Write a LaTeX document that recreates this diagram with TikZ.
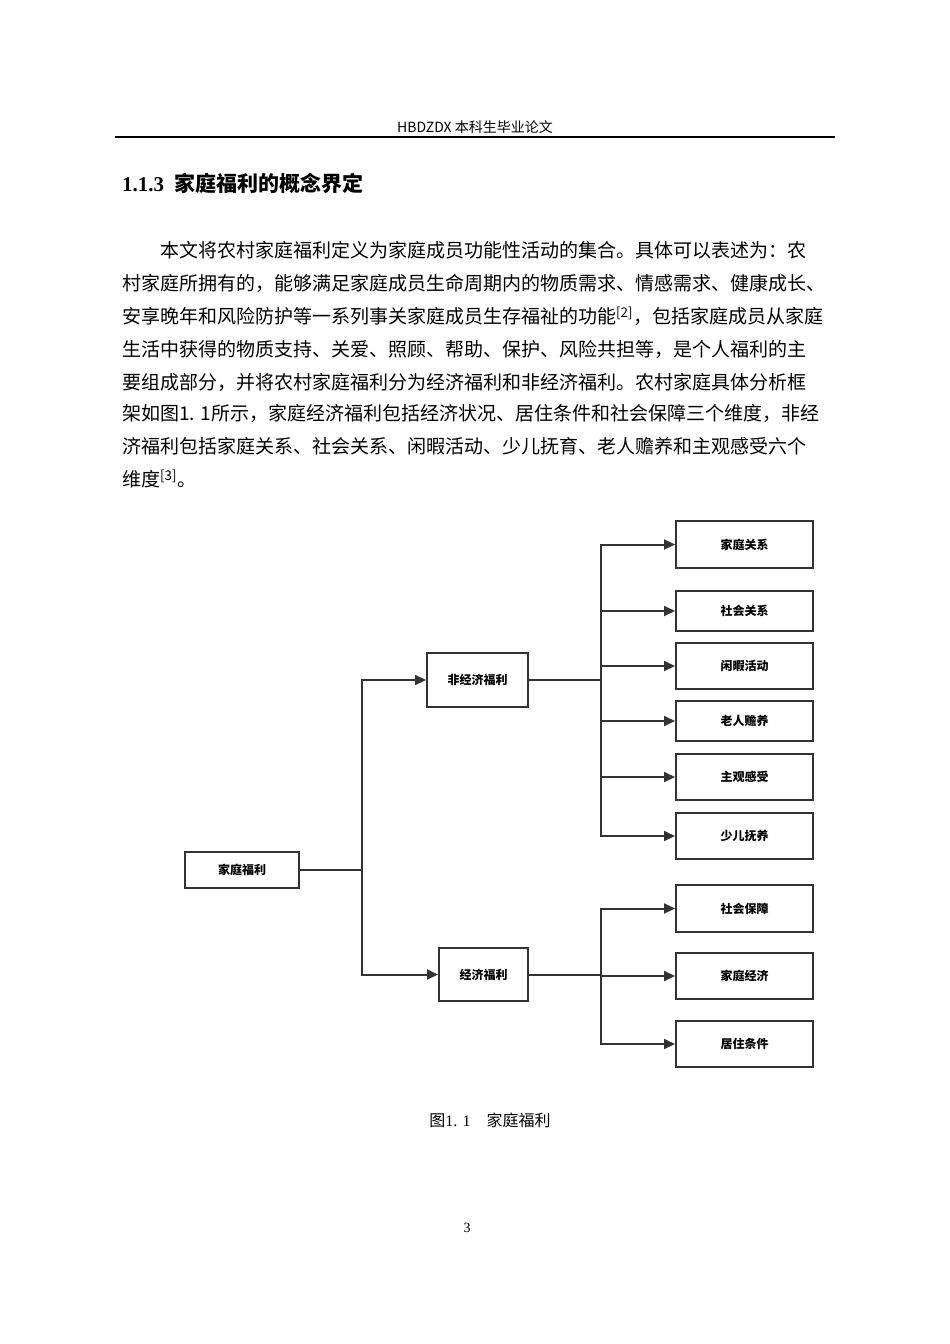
\documentclass[tikz,border=0pt]{standalone}
\usepackage{fontspec}
\setmainfont{Liberation Serif}
\newfontfamily\cjk{Noto Sans CJK SC}
\usetikzlibrary{arrows.meta}
\begin{document}
\begin{tikzpicture}[x=1pt,y=-1pt,
  box/.style={draw=black!80,line width=2pt,fill=white,inner sep=0pt,font=\cjk\bfseries\fontsize{12}{12}\selectfont},
  con/.style={line width=2pt,draw=black!80},
  arr/.style={con,-{Triangle[length=11pt,width=10pt]}},
  body/.style={anchor=west,inner sep=0pt,font=\cjk\fontsize{19}{19}\selectfont}]
\useasboundingbox[fill=white] (0,0) rectangle (950,1344);
\node[inner sep=0pt,font=\cjk\fontsize{14}{14}\selectfont] (hdr) at (475,127) {HBDZDX 本科生毕业论文};
\draw[line width=2pt] (115,137) -- (835,137);
\node[anchor=west,inner sep=0pt,font=\bfseries\fontsize{21}{21}\selectfont] (h) at (122,183) {1.1.3\ \ {\cjk 家庭福利的概念界定}};
\node[body] (l1) at (160,250) {本文将农村家庭福利定义为家庭成员功能性活动的集合。具体可以表述为：农};
\node[body] (l2) at (122,283) {村家庭所拥有的，能够满足家庭成员生命周期内的物质需求、情感需求、健康成长、};
\node[body] (l3) at (122,316) {安享晚年和风险防护等一系列事关家庭成员生存福祉的功能\textsuperscript{[2]}，包括家庭成员从家庭};
\node[body] (l4) at (122,349) {生活中获得的物质支持、关爱、照顾、帮助、保护、风险共担等，是个人福利的主};
\node[body] (l5) at (122,382) {要组成部分，并将农村家庭福利分为经济福利和非经济福利。农村家庭具体分析框};
\node[body] (l6) at (122,413) {架如图1. 1所示，家庭经济福利包括经济状况、居住条件和社会保障三个维度，非经};
\node[body] (l7) at (122,446) {济福利包括家庭关系、社会关系、闲暇活动、少儿抚育、老人赡养和主观感受六个};
\node[body] (l8) at (122,479) {维度\textsuperscript{[3]}。};
% diagram
\node[box,minimum width=114pt,minimum height=36pt] (root) at (242,870) {家庭福利};
\node[box,minimum width=101pt,minimum height=54pt] (nf) at (477.5,680) {非经济福利};
\node[box,minimum width=89pt,minimum height=53pt] (ef) at (483.5,974.5) {经济福利};
\foreach \n/\t/\a/\b in {r1/家庭关系/520/567,r2/社会关系/590/630,r3/闲暇活动/642/688,r4/老人赡养/700/740,r5/主观感受/753/799,r6/少儿抚养/812/858,r7/社会保障/884/931,r8/家庭经济/952/998,r9/居住条件/1020/1066}
  \node[box,minimum width=137pt,minimum height={\b-\a},anchor=north west] (\n) at (675,\a) {\t};
\coordinate (t) at (362,0);
\draw[con] (root.east) -- (root.east -| t);
\draw[arr] (root.east -| t) |- (nf.west);
\draw[arr] (root.east -| t) |- (ef.west);
\coordinate (b) at (601,0);
\draw[con] (nf.east) -- (nf.east -| b);
\draw[con] (ef.east) -- (ef.east -| b);
\foreach \n in {r1,r2,r3,r4,r5,r6} \draw[arr] (nf.east -| b) |- (\n.west);
\foreach \n in {r7,r8,r9} \draw[arr] (ef.east -| b) |- (\n.west);
\node[inner sep=0pt,font=\fontsize{16}{16}\selectfont] (cap) at (490,1120) {{\cjk 图}1. 1\quad{\cjk 家庭福利}};
\node[inner sep=0pt,font=\fontsize{14}{14}\selectfont] (pg) at (467,1228) {3};
\end{tikzpicture}
\end{document}
